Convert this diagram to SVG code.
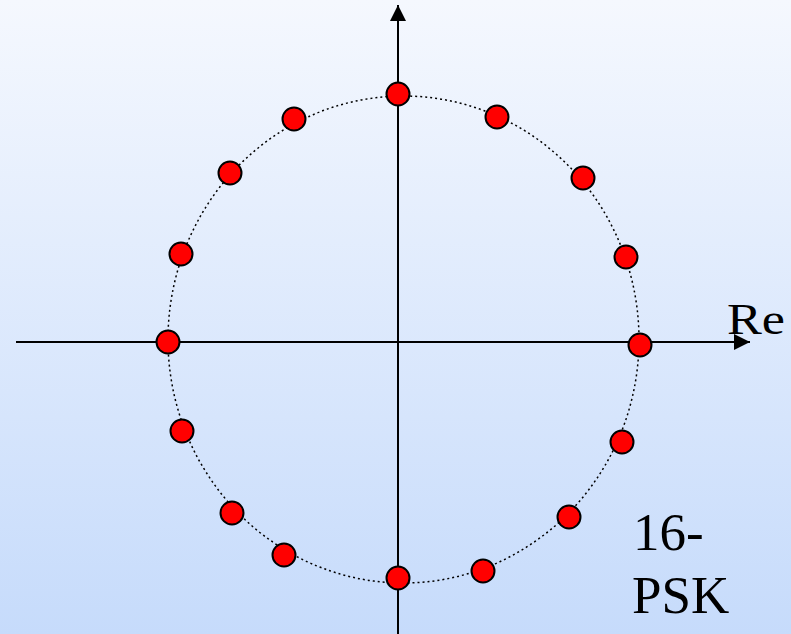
<svg xmlns="http://www.w3.org/2000/svg" width="791" height="634" viewBox="0 0 791 634">
<defs>
<linearGradient id="bg" x1="0" y1="0" x2="0" y2="1">
<stop offset="0" stop-color="#f5f8fe"/>
<stop offset="1" stop-color="#c6dbfb"/>
</linearGradient>
<marker id="arr" viewBox="0 0 16 16" refX="16" refY="8" markerWidth="16" markerHeight="16" markerUnits="userSpaceOnUse" orient="auto">
<path d="M0,0 L16,8 L0,16 Z" fill="#000"/>
</marker>
<style>
.ax{stroke:#000;stroke-width:2;fill:none}
.pt{fill:#ff0000;stroke:#000;stroke-width:2}
.txt{font-family:"Liberation Serif","Times New Roman",serif;fill:#000}
</style>
</defs>
<rect x="0" y="0" width="791" height="634" fill="url(#bg)"/>
<ellipse cx="403.5" cy="339.5" rx="235.5" ry="243.5" fill="none" stroke="#000" stroke-width="1.5" stroke-dasharray="2,3"/>
<g id="connectors">
<line class="ax" x1="398" y1="634" x2="398" y2="5" marker-end="url(#arr)"/>
<line class="ax" x1="16" y1="342" x2="750" y2="342" marker-end="url(#arr)"/>
</g>
<g id="points">
<circle class="pt" cx="398" cy="94" r="11.5"/>
<circle class="pt" cx="497" cy="117" r="11.5"/>
<circle class="pt" cx="583" cy="178" r="11.5"/>
<circle class="pt" cx="626" cy="257" r="11.5"/>
<circle class="pt" cx="640" cy="345" r="11.5"/>
<circle class="pt" cx="622" cy="442" r="11.5"/>
<circle class="pt" cx="569" cy="517" r="11.5"/>
<circle class="pt" cx="483" cy="571" r="11.5"/>
<circle class="pt" cx="398" cy="578" r="11.5"/>
<circle class="pt" cx="284" cy="555" r="11.5"/>
<circle class="pt" cx="232" cy="513" r="11.5"/>
<circle class="pt" cx="182" cy="431" r="11.5"/>
<circle class="pt" cx="168" cy="342" r="11.5"/>
<circle class="pt" cx="181" cy="254" r="11.5"/>
<circle class="pt" cx="230" cy="173" r="11.5"/>
<circle class="pt" cx="294" cy="119" r="11.5"/>
</g>
<g id="labels">
<text class="txt" x="727" y="334" font-size="44" textLength="58" lengthAdjust="spacingAndGlyphs">Re</text>
<text class="txt" x="633" y="550" font-size="53">16-</text>
<text class="txt" x="632" y="613" font-size="53">PSK</text>
</g>
</svg>
